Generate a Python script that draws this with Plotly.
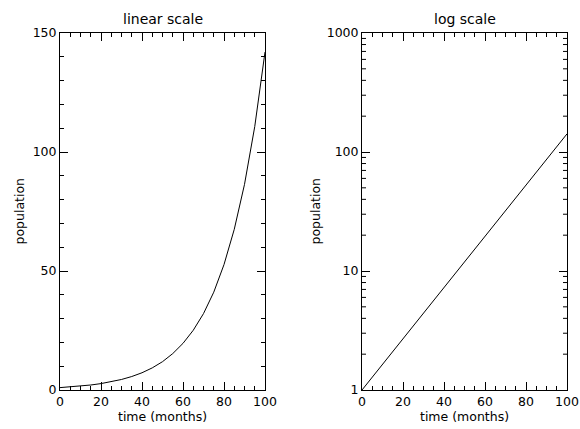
import math
import plotly.graph_objects as go

# time in months and population
time_months = [0, 5, 10, 15, 20, 25, 30, 35, 40, 45, 50, 55, 60, 65, 70, 75, 80, 85, 90, 95, 100]
population = [1.0, 1.28, 1.64, 2.10, 2.69, 3.45, 4.42, 5.66, 7.25, 9.29, 11.9, 15.3,
              19.6, 25.1, 32.1, 41.1, 52.7, 67.5, 86.4, 110.7, 142.0]

x_ticks = [0, 20, 40, 60, 80, 100]
y_lin_ticks = [0, 50, 100, 150]
y_log_ticks = [1, 10, 100, 1000]
y_log_minor = [2, 3, 4, 5, 6, 7, 8, 9, 20, 30, 40, 50, 60, 70, 80, 90,
               200, 300, 400, 500, 600, 700, 800, 900]
titles = ["linear scale", "log scale"]
x_label = "time (months)"
y_label = "population"

FONT = dict(family="DejaVu Sans", size=12.5, color="black")
TFONT = dict(family="DejaVu Sans", size=14, color="black")

fig = go.Figure()
fig.add_trace(go.Scatter(x=time_months, y=population, mode="lines",
                         line=dict(color="black", width=1), xaxis="x", yaxis="y",
                         showlegend=False, hoverinfo="skip"))
fig.add_trace(go.Scatter(x=time_months, y=population, mode="lines",
                         line=dict(color="black", width=1), xaxis="x2", yaxis="y2",
                         showlegend=False, hoverinfo="skip"))

common = dict(showline=True, linecolor="black", linewidth=1, mirror="ticks",
              ticks="inside", ticklen=8, tickcolor="black", tickwidth=1,
              showgrid=False, zeroline=False, tickfont=FONT, automargin=False)

y0, y1 = 1 - 390 / 429, 1 - 33 / 429
dl = [60 / 580, 265 / 580]
dr = [362 / 580, 567 / 580]
LOG_RANGE = [0, 3]

fig.update_layout(
    width=580, height=429,
    margin=dict(l=0, r=0, t=0, b=0, autoexpand=False),
    paper_bgcolor="white", plot_bgcolor="white",
    font=FONT,
    xaxis=dict(domain=dl, range=[0, 100], tickvals=x_ticks, anchor="y",
               minor=dict(ticks="inside", ticklen=4, dtick=5, tickcolor="black", showgrid=False),
               **common),
    yaxis=dict(domain=[y0, y1], range=[0, 150], tickvals=y_lin_ticks, anchor="x",
               minor=dict(ticks="inside", ticklen=4, dtick=10, tickcolor="black", showgrid=False),
               **common),
    xaxis2=dict(domain=dr, range=[0, 100], tickvals=x_ticks, anchor="y2",
                minor=dict(ticks="inside", ticklen=4, dtick=5, tickcolor="black", showgrid=False),
                **common),
    yaxis2=dict(domain=[y0, y1], type="log", range=LOG_RANGE, tickvals=y_log_ticks,
                ticktext=[str(v) for v in y_log_ticks], anchor="x2", **common),
)

# minor log ticks (2..9 in each decade) on both sides of the log panel
panel_w = (dr[1] - dr[0]) * 580
tl = 4 / panel_w
for v in y_log_minor:
    f = (math.log10(v) - LOG_RANGE[0]) / (LOG_RANGE[1] - LOG_RANGE[0])
    for xa, xb in [(0, tl), (1 - tl, 1)]:
        fig.add_shape(type="line", xref="x2 domain", yref="y2 domain",
                      x0=xa, x1=xb, y0=f, y1=f,
                      line=dict(color="black", width=1))

ann = []
for d, t in zip([dl, dr], titles):
    cx = (d[0] + d[1]) / 2
    ann.append(dict(text=t, x=cx, y=1 - 19 / 429, xref="paper", yref="paper",
                    showarrow=False, font=TFONT, xanchor="center", yanchor="middle"))
    ann.append(dict(text=x_label, x=cx, y=1 - 416 / 429, xref="paper", yref="paper",
                    showarrow=False, font=FONT, xanchor="center", yanchor="middle"))
ann.append(dict(text=y_label, x=19 / 580, y=(y0 + y1) / 2, xref="paper", yref="paper",
                showarrow=False, font=FONT, textangle=-90, xanchor="center", yanchor="middle"))
ann.append(dict(text=y_label, x=315 / 580, y=(y0 + y1) / 2, xref="paper", yref="paper",
                showarrow=False, font=FONT, textangle=-90, xanchor="center", yanchor="middle"))
fig.update_layout(annotations=ann)

fig.write_html("out.html", config={"displayModeBar": False},
               post_script="document.body.style.margin='0';")
